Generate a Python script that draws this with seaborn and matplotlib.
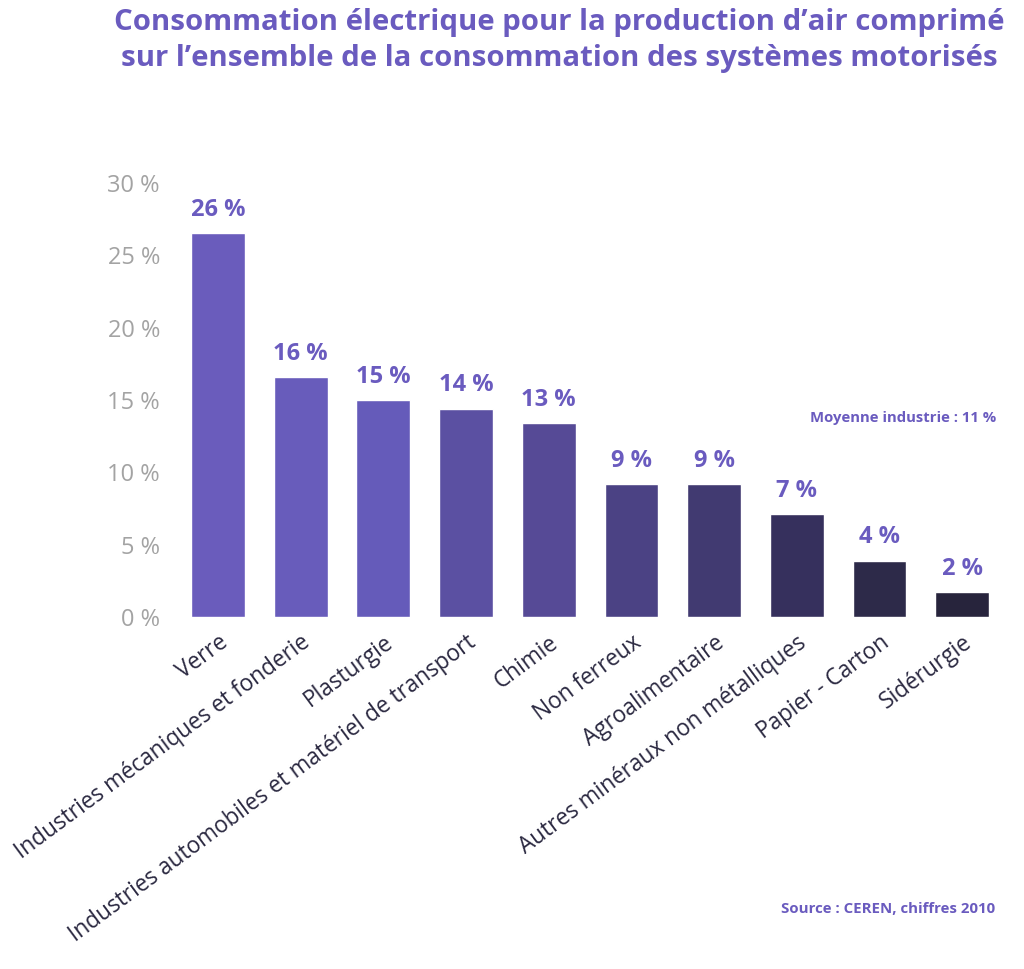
import matplotlib
matplotlib.use("Agg")
import matplotlib.pyplot as plt
import seaborn as sns
import pandas as pd

categories = ["Verre", "Industries mécaniques et fonderie", "Plasturgie",
              "Industries automobiles et matériel de transport", "Chimie",
              "Non ferreux", "Agroalimentaire", "Autres minéraux non métalliques",
              "Papier - Carton", "Sidérurgie"]
values = [26.5, 16.6, 15.0, 14.4, 13.4, 9.2, 9.2, 7.1, 3.9, 1.7]
value_labels = ["26 %", "16 %", "15 %", "14 %", "13 %", "9 %", "9 %", "7 %", "4 %", "2 %"]
y_ticks = [0, 5, 10, 15, 20, 25, 30]
y_tick_labels = ["0 %", "5 %", "10 %", "15 %", "20 %", "25 %", "30 %"]
bar_colors = ["#6a5cbc", "#685cbb", "#655bba", "#5b50a2", "#564a96",
              "#4b4284", "#413a71", "#36305d", "#2d2a49", "#27243c"]

PURPLE = "#6a5bbf"
sns.set_style("white")
plt.rcParams['font.family'] = ['Open Sans', 'DejaVu Sans']

df = pd.DataFrame({"cat": categories, "val": values})
fig = plt.figure(figsize=(10.24, 9.69), dpi=100)
ax = fig.add_axes([0.1725, 0.3633, 0.8075, 0.448])
sns.barplot(data=df, x="cat", y="val", hue="cat", palette=bar_colors,
            width=0.65, legend=False, ax=ax, saturation=1)
ax.set_ylim(0, 30)
ax.set_xlim(-0.5, 9.5)
ax.set_yticks(y_ticks)
ax.set_yticklabels(y_tick_labels, color="#a3a3a3", fontsize=17)
ax.set_xticks(range(len(categories)))
ax.set_xticklabels(categories, rotation=36.5, ha="right", rotation_mode="anchor",
                   color="#2b2941", fontsize=16.3)
ax.tick_params(axis="y", length=0, pad=12)
ax.tick_params(axis="x", length=0, pad=10)
ax.set_xlabel("")
ax.set_ylabel("")
for s in ax.spines.values():
    s.set_visible(False)

for i, (v, lab) in enumerate(zip(values, value_labels)):
    ax.annotate(lab, (i, v), xytext=(0, 8), textcoords="offset points",
                ha="center", va="bottom", fontsize=17, fontweight="bold",
                color=PURPLE)

fig.text(559 / 1024, 0.992, "Consommation électrique pour la production d’air comprimé\nsur l’ensemble de la consommation des systèmes motorisés",
         ha="center", va="top", fontsize=21.2, fontweight="bold", color=PURPLE,
         linespacing=1.35)
fig.text(0.973, 1 - 418 / 969, "Moyenne industrie : 11 %", ha="right", va="center",
         fontsize=10.7, fontweight="bold", color=PURPLE)
fig.text(0.972, 1 - 909 / 969, "Source : CEREN, chiffres 2010", ha="right", va="center",
         fontsize=10.8, fontweight="bold", color=PURPLE)

fig.savefig("out.png", dpi=100)
